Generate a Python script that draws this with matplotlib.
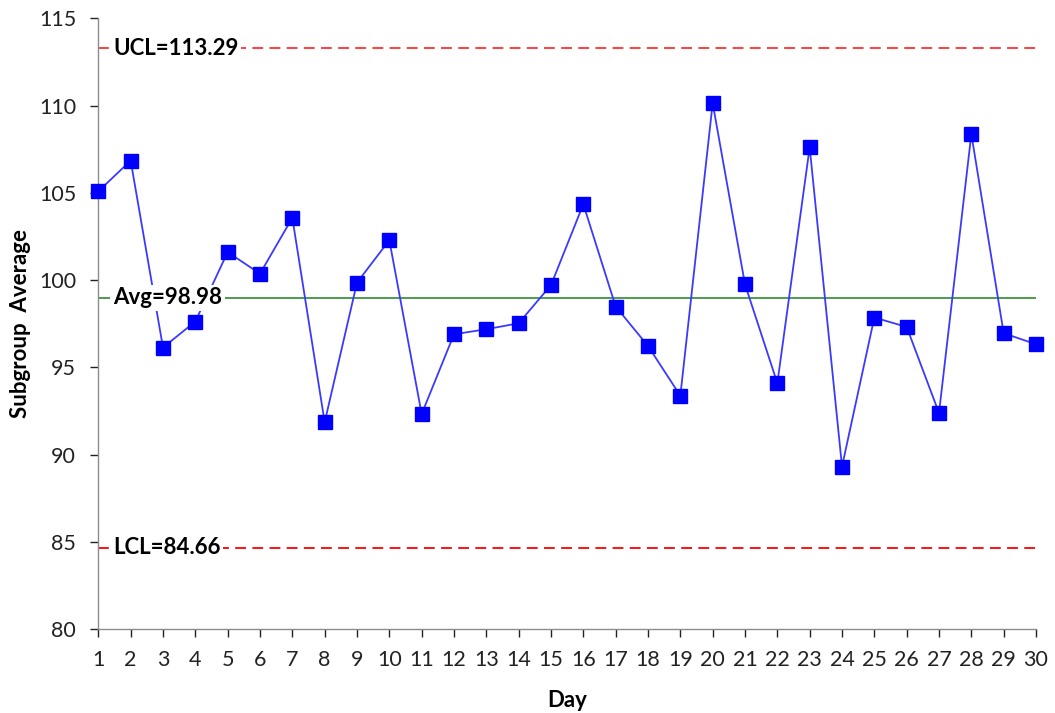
import matplotlib
matplotlib.use("Agg")
import matplotlib.pyplot as plt

days = list(range(1, 31))
averages = [105.09, 106.85, 96.14, 97.63, 101.61, 100.37, 103.57, 91.86, 99.86, 102.29,
            92.33, 96.90, 97.19, 97.53, 99.72, 104.35, 98.49, 96.23, 93.38, 110.14,
            99.76, 94.10, 107.61, 89.32, 97.86, 97.32, 92.39, 108.37, 96.96, 96.33]
ucl = 113.29
avg = 98.98
lcl = 84.66
y_ticks = [80, 85, 90, 95, 100, 105, 110, 115]

plt.rcParams['font.family'] = ['Lato', 'DejaVu Sans']

fig = plt.figure(figsize=(10.55, 7.13), dpi=100)
ax = fig.add_axes([0.0932, 0.1174, 0.982 - 0.0932, 0.9743 - 0.1174])

ax.set_xlim(1, 30)
ax.set_ylim(80, 115)

ax.plot(days, averages, color='#3a3aff', lw=1.3, marker='s', markersize=10,
        markerfacecolor='#0000ff', markeredgecolor='#0000ff', clip_on=False, zorder=3)

ax.axhline(ucl, color='#ff3030', lw=1.3, ls=(0, (6, 3.5)), zorder=2)
ax.axhline(lcl, color='#ff0000', lw=1.3, ls=(0, (6, 3.5)), zorder=2)
ax.axhline(avg, color='#2e8b2e', lw=1.2, zorder=2)

bbox = dict(facecolor='white', edgecolor='none', pad=2)
ax.text(1.45, ucl, f'UCL={ucl:.2f}', fontsize=16, fontweight='bold', va='center', ha='left', bbox=bbox, zorder=5)
ax.text(1.45, avg, f'Avg={avg:.2f}', fontsize=16, fontweight='bold', va='center', ha='left', bbox=bbox, zorder=5)
ax.text(1.45, lcl, f'LCL={lcl:.2f}', fontsize=16, fontweight='bold', va='center', ha='left', bbox=bbox, zorder=5)

ax.set_xticks(days)
ax.set_yticks(y_ticks)
ax.tick_params(axis='both', labelsize=15.5, colors='#222222', direction='out', length=6, width=1)
ax.tick_params(axis='x', pad=9)
ax.tick_params(axis='y', pad=10)
for t in ax.get_xticklines() + ax.get_yticklines():
    t.set_color('#8c8c8c')

for s in ['top', 'right']:
    ax.spines[s].set_visible(False)
for s in ['left', 'bottom']:
    ax.spines[s].set_color('#8c8c8c')
    ax.spines[s].set_linewidth(1)

ax.set_xlabel('Day', fontsize=16, fontweight='bold', labelpad=14)
ax.set_ylabel('Subgroup  Average', fontsize=16, fontweight='bold', labelpad=6)

fig.savefig('out.png', dpi=100)
